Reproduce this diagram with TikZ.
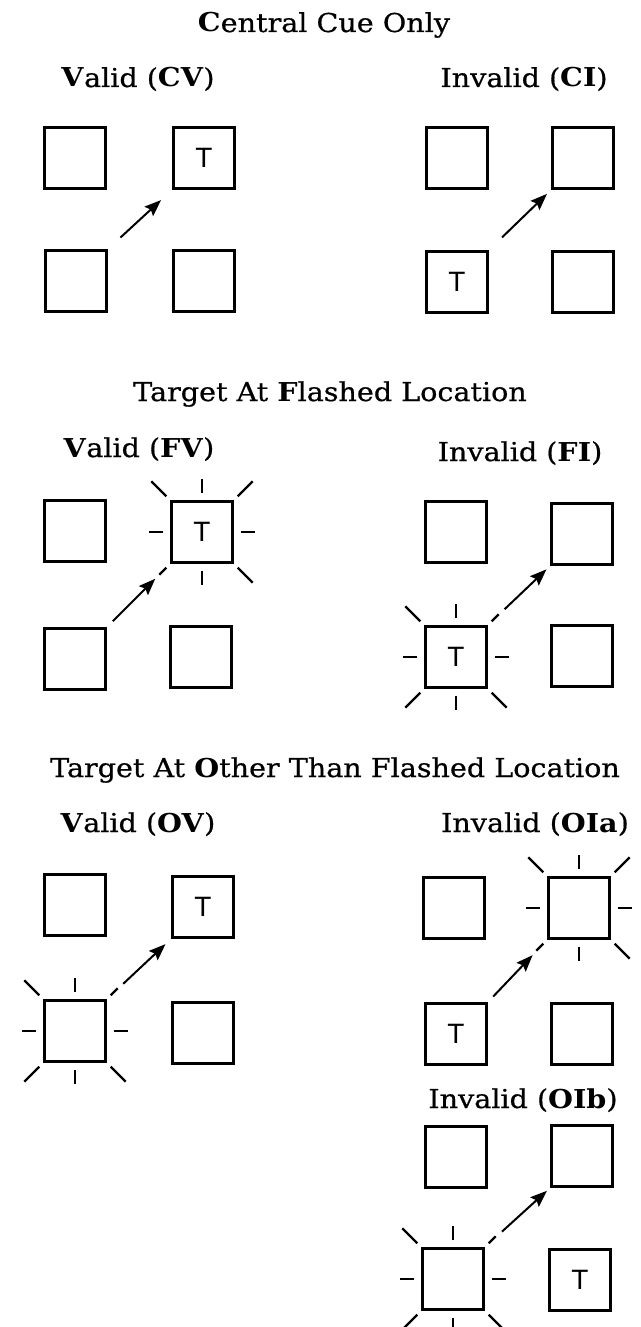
\documentclass[tikz,border=0pt]{standalone}
\usepackage{fontspec}
\setmainfont{DejaVu Serif}[FakeStretch=1.1, UprightFeatures={FakeBold=0.6}]
\newfontfamily\cellfont{Liberation Sans}
\usetikzlibrary{calc, arrows.meta}
\tikzset{
  cell/.style={draw=black, line width=2pt, minimum size=45.5pt, inner sep=0pt, font=\cellfont\fontsize{21}{21}\selectfont},
  ray/.style={line width=1.8pt},
  cue/.style={line width=1.5pt, -{Stealth[length=12.5pt, width=9.5pt, inset=2pt]}},
  heading/.style={anchor=base, font=\fontsize{19.5}{22}\selectfont},
}
% rays round a flashed box; #2 is the corner whose ray stays short
\newcommand\flash[2]{%
  \foreach \side/\dx/\dy in {north/0/-1,south/0/1,east/1/0,west/-1/0}
    \draw[ray] ($(#1.\side)+(7*\dx,7*\dy)$) -- +(14*\dx,14*\dy);
  \foreach \cnr/\dx/\dy in {north east/1/-1,north west/-1/-1,south east/1/1,south west/-1/1}{
    \def\raylen{15}\def\shortcnr{#2}\edef\thiscnr{\cnr}%
    \ifx\thiscnr\shortcnr\def\raylen{7}\fi
    \draw[ray] ($(#1.\cnr)+(4*\dx,4*\dy)$) -- +(\raylen*\dx,\raylen*\dy);
  }
}

\begin{document}
\begin{tikzpicture}[x=0.75pt, y=-0.75pt]
  \useasboundingbox (0,0) rectangle (641,1327);

  % central cue only
  \node[heading] (tcentral) at (324,32) {\textbf{C}entral Cue Only};
  \node[heading] (lcv) at (138,87) {\textbf{V}alid (\textbf{CV})};
  \node[heading] (lci) at (524,87) {Invalid (\textbf{CI})};
  \node[cell] (cvtl) at (75,158) {};
  \node[cell] (cvtr) at (204,158) {T};
  \node[cell] (cvbl) at (76,281) {};
  \node[cell] (cvbr) at (204,281) {};
  \draw[cue, shorten <=13pt, shorten >=11.5pt] (cvbl.north east) -- (cvtr.south west);
  \node[cell] (citl) at (457,158) {};
  \node[cell] (citr) at (583,158) {};
  \node[cell] (cibl) at (457,282) {T};
  \node[cell] (cibr) at (583,282) {};
  \draw[cue, shorten <=14pt, shorten >=4.5pt] (cibl.north east) -- (citr.south west);

  % target at flashed location
  \node[heading] (tflashed) at (330,401) {Target At \textbf{F}lashed Location};
  \node[heading] (lfv) at (139,457) {\textbf{V}alid (\textbf{FV})};
  \node[heading] (lfi) at (520,461) {Invalid (\textbf{FI})};
  \node[cell] (fvtl) at (75,531) {};
  \node[cell] (fvtr) at (202,532) {T};
  \node[cell] (fvbl) at (75,659) {};
  \node[cell] (fvbr) at (201,657) {};
  \flash{fvtr}{south west}
  \draw[cue, shorten <=6.5pt, shorten >=16pt] (fvbl.north east) -- (fvtr.south west);
  \node[cell] (fitl) at (456,532) {};
  \node[cell] (fitr) at (582,534) {};
  \node[cell] (fibl) at (456,657) {T};
  \node[cell] (fibr) at (582,656) {};
  \flash{fibl}{north east}
  \draw[cue, shorten <=17.5pt, shorten >=4pt] (fibl.north east) -- (fitr.south west);

  % target at other than flashed location
  \node[heading] (tother) at (335,777) {Target At \textbf{O}ther Than Flashed Location};
  \node[heading] (lov) at (138,832) {\textbf{V}alid (\textbf{OV})};
  \node[heading] (loia) at (535,832) {Invalid (\textbf{OIa})};
  \node[cell] (ovtl) at (75,905) {};
  \node[cell] (ovtr) at (203,907) {T};
  \node[cell] (ovbl) at (75,1031) {};
  \node[cell] (ovbr) at (203,1033) {};
  \flash{ovbl}{north east}
  \draw[cue, shorten <=17pt, shorten >=6pt] (ovbl.north east) -- (ovtr.south west);
  \node[cell] (oiatl) at (454,908) {};
  \node[cell] (oiatr) at (579,908) {};
  \node[cell] (oiabl) at (456,1034) {T};
  \node[cell] (oiabr) at (582,1034) {};
  \flash{oiatr}{south west}
  \draw[cue, shorten <=6pt, shorten >=16pt] (oiabl.north east) -- (oiatr.south west);
  \node[heading] (loib) at (523,1108) {Invalid (\textbf{OIb})};
  \node[cell] (oibtl) at (456,1157) {};
  \node[cell] (oibtr) at (582,1156) {};
  \node[cell] (oibbl) at (453,1279) {};
  \node[cell] (oibbr) at (580,1280) {T};
  \flash{oibbl}{north east}
  \draw[cue, shorten <=17.5pt, shorten >=3.5pt] (oibbl.north east) -- (oibtr.south west);
\end{tikzpicture}
\end{document}
